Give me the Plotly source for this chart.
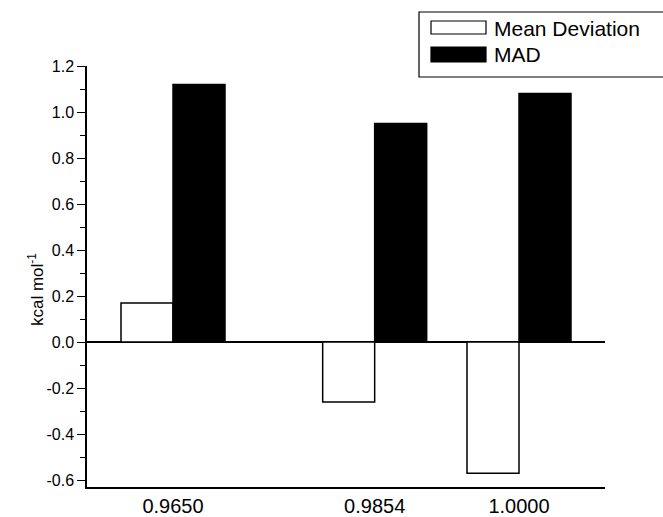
import plotly.graph_objects as go

# ---- data ----
scale_factors = [0.9650, 0.9854, 1.0000]
x_labels = ["0.9650", "0.9854", "1.0000"]
mean_deviation = [0.17, -0.26, -0.57]
mad = [1.12, 0.95, 1.08]
series_names = ["Mean Deviation", "MAD"]
y_tickvals = [-0.6, -0.4, -0.2, 0.0, 0.2, 0.4, 0.6, 0.8, 1.0, 1.2]
y_ticktext = ["-0.6", "-0.4", "-0.2", "0.0", "0.2", "0.4", "0.6", "0.8", "1.0", "1.2"]

W, H = 663, 517
ML, MR, MT, MB = 87, 58, 66, 30
PW, PH = W - ML - MR, H - MT - MB

BAR_W = 0.00526
FONT = "Arial, Liberation Sans, Helvetica, sans-serif"


def px_x(p):
    return (p - ML) / PW


def px_y(p):
    return (H - MB - p) / PH


fig = go.Figure()
fig.add_trace(go.Bar(
    x=scale_factors, y=mean_deviation, name=series_names[0],
    width=BAR_W, offset=-BAR_W,
    marker=dict(color="white", line=dict(color="black", width=1.5)),
    showlegend=False,
))
fig.add_trace(go.Bar(
    x=scale_factors, y=mad, name=series_names[1],
    width=BAR_W, offset=0,
    marker=dict(color="black", line=dict(color="black", width=1.5)),
    showlegend=False,
))

# manual legend (box + swatches + labels)
shapes = [
    dict(type="rect", xref="paper", yref="paper",
         x0=px_x(419), x1=px_x(668), y0=px_y(77), y1=px_y(12),
         line=dict(color="black", width=1.2), fillcolor="white"),
    dict(type="rect", xref="paper", yref="paper",
         x0=px_x(431), x1=px_x(486), y0=px_y(34), y1=px_y(21),
         line=dict(color="black", width=1.2), fillcolor="white"),
    dict(type="rect", xref="paper", yref="paper",
         x0=px_x(431), x1=px_x(486), y0=px_y(62), y1=px_y(47),
         line=dict(color="black", width=1.2), fillcolor="black"),
]
annotations = [
    dict(text=series_names[0], xref="paper", yref="paper",
         x=px_x(492), y=px_y(29), xanchor="left", yanchor="middle",
         showarrow=False, font=dict(size=21, color="black", family=FONT)),
    dict(text=series_names[1], xref="paper", yref="paper",
         x=px_x(492), y=px_y(55), xanchor="left", yanchor="middle",
         showarrow=False, font=dict(size=21, color="black", family=FONT)),
    dict(text="kcal mol<sup>-1</sup>", xref="paper", yref="paper",
         x=px_x(36), y=px_y(290), xanchor="center", yanchor="middle",
         textangle=-90, showarrow=False,
         font=dict(size=17, color="black", family=FONT)),
]

fig.update_layout(
    width=W, height=H,
    margin=dict(l=ML, r=MR, t=MT, b=MB, pad=0, autoexpand=False),
    paper_bgcolor="white", plot_bgcolor="white",
    font=dict(family=FONT, color="black"),
    barmode="overlay",
    shapes=shapes, annotations=annotations,
    xaxis=dict(
        range=[0.9563, 1.0087], automargin=False,
        tickvals=scale_factors, ticktext=x_labels,
        ticks="", showgrid=False, zeroline=False,
        showline=True, linecolor="black", linewidth=1.5,
        tickfont=dict(size=20, color="black"),
    ),
    yaxis=dict(
        range=[-0.63, 1.2], automargin=False,
        tickvals=y_tickvals, ticktext=y_ticktext,
        ticks="outside", ticklen=8, tickwidth=1.2, tickcolor="black",
        minor=dict(ticks="outside", ticklen=5, tickwidth=1.2, tickcolor="black", dtick=0.1),
        showgrid=False,
        zeroline=True, zerolinecolor="black", zerolinewidth=1.5,
        showline=True, linecolor="black", linewidth=1.5,
        tickfont=dict(size=16, color="black"),
    ),
)

fig.write_html("out.html")
